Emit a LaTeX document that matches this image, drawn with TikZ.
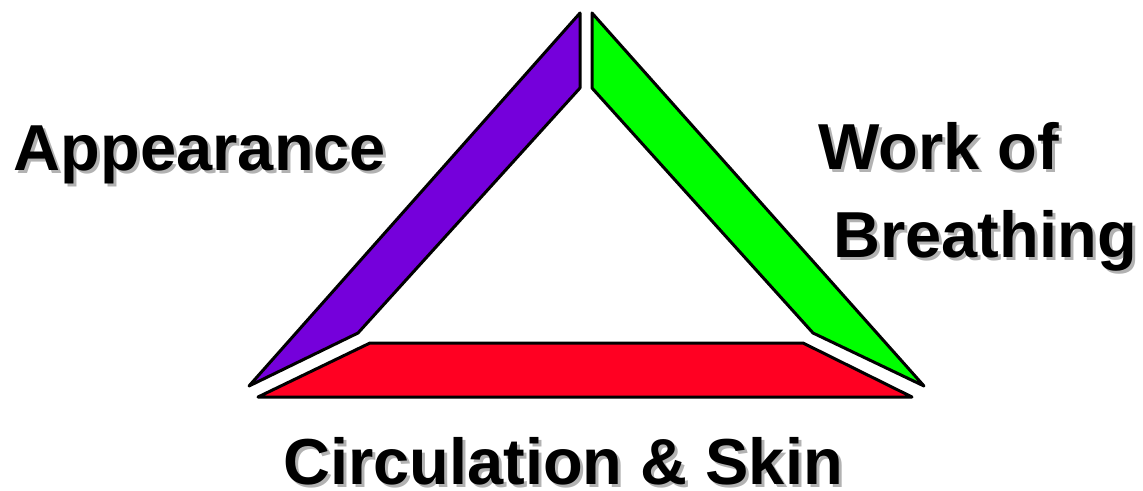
\documentclass[tikz,border=0pt]{standalone}
\usepackage{fontspec}
\setmainfont{Liberation Sans}
\usetikzlibrary{positioning}
\definecolor{apviolet}{HTML}{7500DB}
\definecolor{wobgreen}{HTML}{00FF00}
\definecolor{cirred}{HTML}{FF0022}

\begin{document}
\begin{tikzpicture}[x=1pt,y=-1pt,
 side/.style={draw=black,line width=3pt,line join=round},
 lbl/.style={font=\bfseries\fontsize{65}{78}\selectfont,inner sep=0pt},
 shd/.style={lbl,text=black!30}]
 \useasboundingbox (0,0) rectangle (1143,490);
 % the three sides
 \fill[side,fill=apviolet] (580,13) -- (580,88) -- (358,333) -- (249,386) -- cycle;
 \fill[side,fill=wobgreen] (592,13) -- (592,88) -- (813,333) -- (924,386) -- cycle;
 \fill[side,fill=cirred] (370,343) -- (803,343) -- (912,397) -- (258,397) -- cycle;
 % labels, with their shadows
 \node[shd,anchor=base] (appS) at (203,173) {Appearance};
 \node[lbl,anchor=base] (app) at (200,170) {Appearance};
 \node[shd,anchor=base west] (workS) at (821,172) {Work of};
 \node[lbl,anchor=base west] (work) at (818,169) {Work of};
 \node[shd,anchor=base east] (breathS) at (1140,260) {Breathing};
 \node[lbl,anchor=base east] (breath) at (1137,257) {Breathing};
 \node[shd,anchor=base] (circS) at (566,487) {Circulation \& Skin};
 \node[lbl,anchor=base] (circ) at (563,484) {Circulation \& Skin};
\end{tikzpicture}
\end{document}
